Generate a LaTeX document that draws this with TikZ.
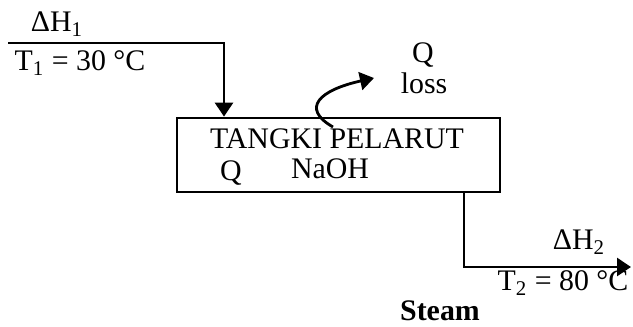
\documentclass[tikz,border=0pt]{standalone}
\usepackage{fontspec}
\setmainfont{Liberation Serif}
\usetikzlibrary{arrows.meta,calc,positioning}

\begin{document}
\begin{tikzpicture}[>=Latex, x=0.02cm, y=-0.02cm,
    stream/.style={-{Triangle[length=14pt*0.569, width=18pt*0.569]}, line width=1.6pt},
    lbl/.style={inner sep=0pt, font=\fontsize{17pt}{19pt}\selectfont}]
    \useasboundingbox (0,0) rectangle (633,326);
    % tank
    \node[draw, line width=1.6pt, minimum width=6.46cm, minimum height=1.48cm, inner sep=0pt] (tank) at (338.5,155) {};
    \node[lbl] (tname) at (337,139) {TANGKI PELARUT};
    \node[lbl] (naoh) at (330,169) {NaOH};
    \node[lbl] (qin) at (231,173) {Q};
    % feed
    \coordinate (feed) at (8,43);
    \coordinate (feedbend) at (224,43);
    \node[lbl] (dh1) at (57,24) {ΔH\textsubscript{1}};
    \node[lbl] (t1) at (80,63) {T\textsubscript{1} = 30 °C};
    \draw[stream] (feed) -- (feedbend) -- (feedbend |- tank.north);
    % product
    \coordinate (prodbend) at (464,267);
    \coordinate (prod) at (631,267);
    \node[lbl] (dh2) at (579,242) {ΔH\textsubscript{2}};
    \node[lbl] (t2) at (563,283) {T\textsubscript{2} = 80 °C};
    \node[lbl] (steam) at (440,311) {\textbf{Steam}};
    \draw[stream] (prodbend |- tank.south) -- (prodbend) -- (prod);
    % heat loss
    \coordinate (qsrc) at (333,127);
    \coordinate (qtip) at (374,78);
    \node[lbl] (qloss) at (423,55) {Q};
    \node[lbl] (loss) at (424,83) {loss};
    \draw[stream] (qsrc) .. controls (300,108) and (320,90) .. (qtip);
\end{tikzpicture}
\end{document}
